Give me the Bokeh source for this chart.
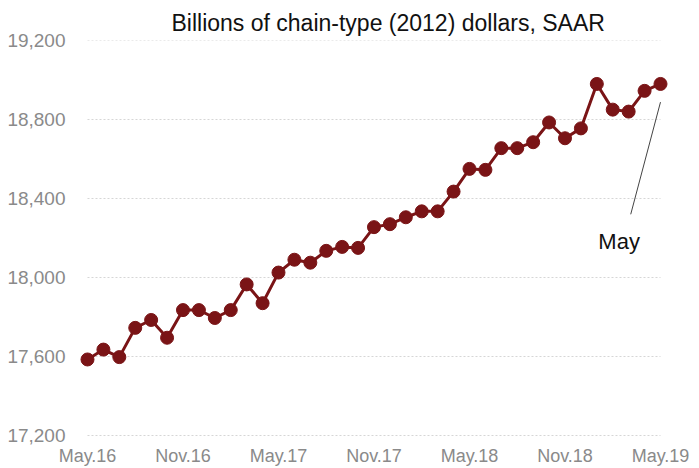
from bokeh.plotting import figure
from bokeh.models import FixedTicker, NumeralTickFormatter, Range1d, ColumnDataSource
from bokeh.core.properties import value
from bokeh.embed import file_html
from bokeh.resources import INLINE

# ---- data ----
months = list(range(37))  # May.16 .. May.19
gdp = [17585, 17635, 17597, 17745, 17785, 17695, 17835, 17835, 17795, 17835,
       17965, 17870, 18025, 18090, 18075, 18135, 18155, 18150, 18255, 18270,
       18305, 18335, 18335, 18435, 18550, 18545, 18655, 18655, 18685, 18785,
       18705, 18755, 18980, 18850, 18840, 18945, 18980]
x_ticks = [0, 6, 12, 18, 24, 30, 36]
x_tick_labels = ["May.16", "Nov.16", "May.17", "Nov.17", "May.18", "Nov.18", "May.19"]
y_ticks = [17200, 17600, 18000, 18400, 18800, 19200]
title_text = "Billions of chain-type (2012) dollars, SAAR"
note_text = "May"
note_line_x = [36.0, 34.13]
note_line_y = [18888, 18320]
note_text_x = 33.4
note_text_y = 18180

FONT = "Liberation Sans"
DARK_RED = "#7a1416"
GRAY = "#8a8a8a"

p = figure(width=699, height=468, output_backend="svg", toolbar_location=None,
           x_range=Range1d(-0.565, 36.503), y_range=Range1d(17195, 19200),
           min_border_left=78, min_border_right=31, min_border_top=40,
           min_border_bottom=32, title=title_text)
p.outline_line_color = None
p.background_fill_color = "white"
p.border_fill_color = "white"

p.title.text_font = FONT
p.title.text_font_size = "23px"
p.title.text_font_style = "normal"
p.title.text_color = "#111111"
p.title.align = "left"
p.title.offset = 93
p.title.standoff = 10

p.xgrid.visible = False
p.ygrid.visible = False

# gridlines spanning the data period
p.segment(x0=[months[0]] * len(y_ticks), x1=[months[-1]] * len(y_ticks),
          y0=y_ticks, y1=y_ticks, line_color="#d6d6d6", line_width=1,
          line_dash="2 2")

for ax in (p.xaxis[0], p.yaxis[0]):
    ax.axis_line_color = None
    ax.major_tick_line_color = None
    ax.minor_tick_line_color = None
    ax.major_label_text_font = FONT
    ax.major_label_text_color = GRAY

p.xaxis.major_label_text_font_size = "18px"
p.yaxis.major_label_text_font_size = "19px"
p.xaxis.ticker = FixedTicker(ticks=x_ticks)
p.xaxis.major_label_overrides = {t: l for t, l in zip(x_ticks, x_tick_labels)}
p.xaxis.major_label_standoff = 3
p.yaxis.ticker = FixedTicker(ticks=y_ticks)
p.yaxis.formatter = NumeralTickFormatter(format="0,0")
p.yaxis.major_label_standoff = 7

src = ColumnDataSource(dict(x=months, y=gdp))
p.line("x", "y", source=src, line_color=DARK_RED, line_width=3)
p.scatter("x", "y", source=src, size=13, fill_color=DARK_RED, line_color=DARK_RED)

# annotation
p.line(note_line_x, note_line_y, line_color="#444444", line_width=1)
p.text(x=[note_text_x], y=[note_text_y], text=[note_text], text_font=value(FONT),
       text_font_size="22px", text_color="#111111", text_align="center",
       text_baseline="alphabetic")

open("out.html", "w").write(file_html(p, INLINE))
